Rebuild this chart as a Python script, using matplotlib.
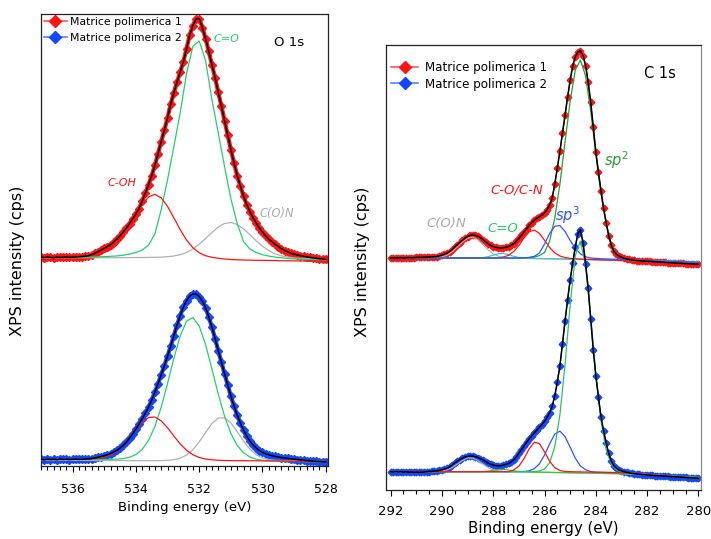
# XPS O 1s / C 1s spectra of two polymer matrices, with fitted components
import numpy as np
import matplotlib.pyplot as plt
from matplotlib.ticker import MultipleLocator
from matplotlib.lines import Line2D

W, H = 711, 539

# ---------------- O 1s ----------------
# measured spectra, 537.0 -> 528.0 eV, step 0.1 eV (height above own baseline)
o1s_e = np.round(537.0 - 0.1 * np.arange(91), 1)
o1s_m1 = [0.3, 0.0, 0.5, 0.2, -0.2, 0.4, 0.1, 0.3, 0.6, 0.2,
          0.4, 0.6, 0.8, 1.0, 1.3, 1.8, 2.8, 4.2, 5.8, 7.5,
          9.2, 11.0, 13.0, 15.6, 18.4, 21.6, 25.5, 29.6, 34.0, 38.8,
          43.6, 49.0, 56.5, 64.5, 73.0, 82.0, 92.5, 104.0, 116.0, 127.5,
          140.0, 153.5, 165.0, 175.5, 185.5, 196.0, 209.0, 222.5, 232.0, 238.5,
          239.0, 230.0, 219.0, 206.5, 193.0, 180.0, 165.5, 151.5, 137.0, 122.5,
          108.0, 94.5, 82.0, 71.5, 61.5, 53.0, 46.0, 40.0, 34.5, 29.5,
          25.5, 21.5, 18.5, 15.8, 13.3, 11.0, 8.8, 7.0, 5.6, 4.4,
          3.4, 2.5, 1.8, 1.2, 0.6, 0.1, -0.4, -0.8, -1.2, -1.5,
          -1.8]
o1s_m2 = [0.2, -0.3, 0.4, 0.0, 0.3, -0.2, 0.5, 0.1, 0.3, 0.0,
          0.2, 0.4, 0.1, 0.3, 0.5, 0.6, 1.0, 1.5, 2.2, 3.0,
          3.8, 4.8, 6.0, 7.5, 9.2, 11.5, 14.2, 17.5, 21.5, 25.8,
          30.5, 35.5, 41.0, 46.5, 52.5, 59.5, 67.5, 76.0, 85.0, 94.0,
          103.5, 113.5, 124.0, 134.5, 144.0, 152.5, 159.0, 163.5, 165.5, 165.5,
          163.0, 158.5, 152.0, 143.0, 132.5, 121.0, 109.0, 97.5, 86.0, 74.5,
          63.5, 53.5, 44.5, 36.5, 29.5, 23.5, 18.5, 14.5, 11.5, 9.0,
          7.2, 5.8, 4.7, 3.8, 3.1, 2.5, 2.0, 1.5, 1.1, 0.7,
          0.3, 0.0, -0.4, -0.7, -1.0, -1.3, -1.6, -1.8, -2.0, -2.2,
          -2.4]

# fitted components, 537.0 -> 528.0 eV, step 0.2 eV
o1s_ce = np.round(537.0 - 0.2 * np.arange(46), 1)
o1s_m1_coh = [0.4, 0.4, 0.4, 0.5, 0.5, 0.6, 0.8, 1.2, 2.0, 3.2,
              5.0, 7.8, 12.6, 20.2, 30.2, 41.8, 52.8, 60.6, 63.2, 59.6,
              51.0, 39.6, 27.8, 17.4, 9.8, 4.8, 1.8, 0.2, -0.8, -1.5,
              -2.0, -2.3, -2.5, -2.7, -2.8, -2.9, -3.0, -3.1, -3.2, -3.3,
              -3.4, -3.5, -3.6, -3.7, -3.8, -3.9]
o1s_m1_co = [0.0, 0.0, 0.1, 0.1, 0.1, 0.2, 0.2, 0.3, 0.4, 0.6,
             0.9, 1.2, 1.6, 2.3, 3.4, 5.0, 7.5, 12.5, 23.5, 48.0,
             78.0, 111.0, 145.0, 184.0, 211.0, 216.5, 197.0, 158.0, 125.0, 91.0,
             59.0, 34.0, 16.0, 8.5, 5.0, 2.8, 1.4, 0.4, -0.4, -1.0,
             -1.4, -1.7, -2.0, -2.2, -2.4, -2.5]
o1s_m1_con = [-0.2, -0.2, -0.2, -0.2, -0.2, -0.2, -0.2, -0.2, -0.2, -0.2,
              -0.2, -0.2, -0.2, -0.1, -0.1, 0.0, 0.0, 0.1, 0.2, 0.4,
              0.8, 1.5, 2.8, 5.0, 8.5, 13.3, 19.0, 25.0, 30.4, 34.0,
              35.0, 33.0, 28.6, 22.9, 16.7, 11.2, 6.9, 3.7, 1.6, 0.4,
              -0.4, -0.9, -1.2, -1.5, -1.7, -1.8]
o1s_m2_coh = [0.0, 0.0, 0.0, 0.0, 0.0, 0.1, 0.2, 0.3, 0.6, 1.1,
              2.2, 4.5, 8.4, 14.2, 21.8, 30.1, 37.5, 42.0, 42.5, 38.6,
              31.7, 23.5, 15.6, 9.2, 4.8, 2.0, 0.5, -0.3, -0.8, -1.0,
              -1.1, -1.2, -1.2, -1.3, -1.3, -1.4, -1.4, -1.5, -1.6, -1.7,
              -1.8, -1.9, -2.0, -2.1, -2.2, -2.3]
o1s_m2_co = [0.0, 0.0, 0.0, 0.0, 0.0, 0.0, 0.0, 0.0, 0.0, 0.0,
             0.1, 0.2, 0.4, 0.9, 2.2, 5.0, 10.2, 19.2, 33.2, 52.5,
             76.2, 101.3, 123.6, 138.3, 142.0, 133.4, 115.0, 90.8, 65.6, 43.4,
             26.1, 14.1, 6.7, 2.5, 0.3, -0.8, -1.3, -1.6, -1.8, -1.9,
             -2.0, -2.1, -2.2, -2.2, -2.3, -2.3]
o1s_m2_con = [-0.6, -0.6, -0.7, -0.7, -0.8, -0.8, -0.9, -0.9, -1.0, -1.0,
              -1.0, -1.1, -1.1, -1.1, -1.2, -1.2, -1.2, -1.2, -1.2, -1.1,
              -0.9, -0.2, 1.3, 4.4, 9.8, 17.6, 27.0, 35.9, 41.4, 41.7,
              36.6, 27.9, 18.5, 10.4, 4.8, 1.5, -0.1, -0.8, -1.2, -1.4,
              -1.5, -1.6, -1.7, -1.8, -1.9, -2.0]

# ---------------- C 1s ----------------
# measured spectra, 292.0 -> 280.0 eV, step 0.1 eV
c1s_e = np.round(292.0 - 0.1 * np.arange(121), 1)
c1s_m1 = [0.0, 0.3, -0.2, 0.2, 0.4, 0.0, 0.3, 0.5, 0.2, 0.4,
          0.6, 0.7, 0.6, 0.8, 0.9, 1.0, 1.2, 1.3, 1.5, 2.2,
          2.9, 3.8, 4.9, 6.5, 8.5, 11.0, 13.2, 15.5, 17.8, 19.8,
          21.5, 22.7, 23.0, 22.6, 21.7, 20.4, 18.5, 16.3, 14.2, 12.6,
          11.4, 10.6, 10.2, 10.1, 10.3, 10.8, 11.5, 12.8, 14.5, 16.8,
          19.6, 22.6, 26.0, 29.4, 32.6, 35.5, 37.8, 39.7, 41.4, 43.0,
          45.2, 48.5, 53.0, 60.0, 74.0, 90.0, 107.0, 125.0, 143.0, 161.0,
          178.0, 192.0, 201.3, 206.0, 207.3, 202.5, 192.5, 176.0, 156.0, 131.0,
          106.0, 86.0, 67.5, 50.0, 35.5, 22.5, 13.0, 7.0, 3.8, 2.0,
          0.8, -0.3, -0.9, -1.4, -1.8, -2.2, -2.6, -2.8, -3.0, -3.1,
          -3.3, -3.4, -3.5, -3.7, -3.8, -4.0, -4.2, -4.4, -4.5, -4.7,
          -4.8, -5.0, -5.1, -5.3, -5.4, -5.6, -5.7, -5.9, -6.0, -6.2,
          -6.3]
c1s_m2 = [0.0, -0.3, 0.2, -0.2, 0.1, -0.4, -0.1, -0.5, -0.3, -0.6,
          -0.4, -0.6, -0.5, -0.3, 0.0, 0.2, 0.4, 0.6, 0.8, 1.3,
          1.9, 2.6, 3.5, 4.8, 6.6, 8.8, 10.6, 12.2, 13.5, 14.6,
          15.3, 15.7, 15.6, 15.0, 14.2, 13.1, 11.8, 10.2, 8.6, 7.4,
          6.6, 6.1, 5.9, 6.1, 6.6, 7.3, 8.3, 9.8, 11.8, 14.8,
          18.4, 22.0, 25.8, 29.4, 32.8, 35.8, 38.8, 41.7, 44.5, 47.2,
          50.4, 54.5, 59.0, 65.5, 76.0, 90.0, 106.0, 128.0, 151.0, 172.0,
          192.0, 209.0, 225.0, 238.0, 242.0, 229.0, 208.0, 184.0, 153.0, 122.0,
          96.0, 75.0, 55.0, 41.0, 29.0, 18.5, 10.5, 6.0, 3.5, 1.8,
          0.8, 0.0, -0.6, -1.2, -1.7, -2.0, -2.3, -2.6, -2.9, -3.1,
          -3.3, -3.5, -3.7, -3.9, -4.0, -4.2, -4.3, -4.5, -4.7, -4.8,
          -5.0, -5.1, -5.3, -5.4, -5.6, -5.7, -5.9, -6.0, -6.2, -6.4,
          -6.6]

# fitted components (denser sampling where the peaks are)
c1s_ce = np.array([292.0, 291.2] + [round(290.6 - 0.2 * i, 1) for i in range(41)]
                  + [281.6, 280.8, 280.0])
c1s_m1_sp2 = [0.0] * 20 + [0.1, 0.2, 0.4, 0.9, 2.4, 5.5, 17.0, 40.0, 74.0, 116.0,
                           157.0, 188.0, 198.0, 182.0, 147.0, 104.0, 65.0, 35.0, 14.0, 4.0,
                           0.5, -1.0, -1.8, -3.8, -5.0, -6.3]
c1s_m1_sp3 = [0.0] * 20 + [0.0, 0.2, 0.6, 1.6, 5.0, 14.0, 24.5, 31.8, 32.4, 26.5,
                           17.5, 9.8, 4.2, 1.2, 0.0, -0.4, -0.7, -0.9, -1.1, -1.3,
                           -1.5, -1.7, -1.9, -2.9, -3.7, -4.4]
c1s_m1_con = [0.0] * 17 + [1.0, 2.7, 6.5,
                           12.5, 20.0, 26.1, 28.0, 24.6, 17.7, 10.5, 5.1, 2.0, 0.4,
                           -0.4, -0.8, -1.1, -1.3, -1.5, -1.7, -1.9, -2.0, -2.2, -2.3,
                           -2.5, -2.6, -2.8, -3.5, -4.1, -4.6]
c1s_m1_amide = [0.0, 0.0, 0.0, 0.1, 0.3, 1.0, 2.8, 6.2, 11.2, 16.0,
                19.8, 20.9, 18.4, 13.5, 8.2, 4.2, 1.8, 0.6, 0.1, -0.2,
                -0.3, -0.4, -0.5, -0.6, -0.7, -0.8, -0.9, -1.0, -1.1, -1.2,
                -1.3, -1.4, -1.5, -1.6, -1.7, -1.8, -1.9, -2.0, -2.1, -2.2,
                -2.3, -2.4, -2.5, -3.0, -3.5, -4.0]
c1s_m1_co = [0.0] * 12 + [0.1, 0.4, 1.3, 2.9, 4.3, 4.6, 3.4, 1.7,
                          0.5, 0.0, -0.2, -0.4, -0.5, -0.6, -0.7, -0.8, -0.9, -1.0,
                          -1.1, -1.2, -1.3, -1.4, -1.5, -1.6, -1.7, -1.8, -1.9, -2.0,
                          -2.1, -2.2, -2.3, -2.8, -3.3, -3.7]
c1s_m2_sp2 = [0.0] * 20 + [0.0, 0.0, 0.0, 0.1, 0.7, 2.7, 9.0, 25.0, 57.0, 107.0,
                           167.0, 216.0, 230.8, 205.7, 154.6, 97.0, 51.1, 22.3, 7.8, 1.8,
                           -0.3, -1.2, -1.5, -3.5, -5.0, -6.4]
c1s_m2_sp3 = [0.0] * 20 + [0.0, 0.2, 0.9, 3.0, 7.9, 16.6, 27.9, 37.6, 40.6, 35.1,
                           24.4, 13.5, 5.8, 1.9, 0.2, -0.5, -0.6, -0.7, -0.8, -0.9,
                           -1.0, -1.2, -1.5, -3.5, -5.0, -6.4]
c1s_m2_con = [0.0] * 19 + [1.7,
                           5.5, 13.1, 22.8, 29.5, 28.1, 19.9, 10.4, 4.0, 1.2, 0.2,
                           0.0, -0.1, -0.2, -0.3, -0.4, -0.5, -0.6, -0.7, -0.8, -0.9,
                           -1.0, -1.2, -1.5, -3.5, -5.0, -6.6]
c1s_m2_amide = [0.0, 0.0, 0.0, 0.0, 0.2, 0.7, 1.9, 4.2, 7.6, 11.2,
                13.7, 13.7, 11.2, 7.6, 4.2, 1.9, 0.7, 0.2, 0.0, -0.1,
                -0.2, -0.3, -0.4, -0.5, -0.6, -0.7, -0.8, -0.9, -1.0, -1.1,
                -1.2, -1.3, -1.4, -1.5, -1.6, -1.7, -1.8, -1.9, -2.0, -2.1,
                -2.2, -2.3, -2.5, -3.8, -5.0, -6.0]
c1s_m2_co = [0.0] * 12 + [0.0, 0.2, 0.6, 1.4, 2.1, 2.3, 1.7, 0.8,
                          0.3, 0.0, -0.2, -0.3, -0.4, -0.5, -0.6, -0.7, -0.8, -0.9,
                          -1.0, -1.1, -1.2, -1.3, -1.4, -1.5, -1.6, -1.7, -1.8, -1.9,
                          -2.0, -2.1, -2.3, -3.4, -4.5, -5.6]

labels = ['Matrice polimerica 1', 'Matrice polimerica 2']

RED, BLUE = '#ff1414', '#1448ff'
GREEN_O = '#22d070'
GRAY = '#b0b0b0'
SP2_1, SP2_2 = '#2a9e35', '#2ec25e'
SP3 = '#3355ff'
CYAN = '#3cc8c8'

fig = plt.figure(figsize=(W / 100, H / 100), dpi=100)
ax1 = fig.add_axes([41 / W, 1 - 466 / H, 287 / W, 452 / H])
ax2 = fig.add_axes([386 / W, 1 - 490 / H, 315 / W, 445 / H])


def spectrum(ax, e, h, off, col, band, ms):
    h = np.asarray(h) + off
    ax.plot(e, h, '-', color=col, lw=band, marker='D', ms=ms, mec=col, mfc=col, zorder=2)
    ax.plot(e, h, '-', color='k', lw=1.1, zorder=4)


def comp(ax, e, h, off, col):
    ax.plot(e, np.asarray(h) + off, color=col, lw=0.9, zorder=3)


# O 1s panel
up, lo = 208.5, 6.5
spectrum(ax1, o1s_e, o1s_m1, up, RED, 3.0, 3.8)
spectrum(ax1, o1s_e, o1s_m2, lo, BLUE, 3.0, 3.8)
for off, coh, co, con in [(up, o1s_m1_coh, o1s_m1_co, o1s_m1_con),
                          (lo, o1s_m2_coh, o1s_m2_co, o1s_m2_con)]:
    comp(ax1, o1s_ce, con, off, GRAY)
    comp(ax1, o1s_ce, co, off, GREEN_O)
    comp(ax1, o1s_ce, coh, off, RED)

# C 1s panel
up, lo = 232.0, 18.3
spectrum(ax2, c1s_e, c1s_m1, up, RED, 0.8, 3.4)
spectrum(ax2, c1s_e, c1s_m2, lo, BLUE, 0.8, 3.4)
comp(ax2, c1s_ce, c1s_m1_amide, up, GRAY)
comp(ax2, c1s_ce, c1s_m1_co, up, CYAN)
comp(ax2, c1s_ce, c1s_m1_con, up, RED)
comp(ax2, c1s_ce, c1s_m1_sp2, up, SP2_1)
comp(ax2, c1s_ce, c1s_m1_sp3, up, SP3)
comp(ax2, c1s_ce, c1s_m2_amide, lo, GRAY)
comp(ax2, c1s_ce, c1s_m2_co, lo, '#33cc33')
comp(ax2, c1s_ce, c1s_m2_sp3, lo, SP3)
comp(ax2, c1s_ce, c1s_m2_sp2, lo, SP2_2)
comp(ax2, c1s_ce, c1s_m2_con, lo, RED)

ax1.set_xlim(537.0, 527.93)
ax1.set_ylim(0, 452)
ax1.set_xticks([536, 534, 532, 530, 528])
ax1.xaxis.set_minor_locator(MultipleLocator(0.2))
ax2.set_xlim(292.18, 279.9)
ax2.set_ylim(0, 445)
ax2.set_xticks(np.arange(292, 279, -2))
ax2.xaxis.set_minor_locator(MultipleLocator(0.5))

for ax, fs, pad in [(ax1, 9, 7.5), (ax2, 9.5, 6.5)]:
    ax.set_yticks([])
    ax.tick_params(axis='x', which='major', direction='out', length=4.5, width=0.8,
                   labelsize=fs, pad=pad)
    ax.tick_params(axis='x', which='minor', direction='out', length=3, width=0.8)
    for s in ax.spines.values():
        s.set_color('#222222')
        s.set_linewidth(0.9)
ax2.spines['right'].set_color('#888888')

ax1.set_xlabel('Binding energy (eV)', fontsize=9.5)
ax1.xaxis.set_label_coords(0.5, (466 - 500.5) / 452)
ax2.set_xlabel('Binding energy (eV)', fontsize=10.8)
ax2.xaxis.set_label_coords(0.5, (490 - 521.5) / 445)


def put(x, y, s, **kw):
    fig.text(x / W, 1 - y / H, s, ha='center', va='center', **kw)


put(18, 261, 'XPS intensity (cps)', rotation=90, fontsize=11.5)
put(363, 262, 'XPS intensity (cps)', rotation=90, fontsize=11.5)

# peak labels
put(122, 183, 'C-OH', color=RED, style='italic', fontsize=8)
put(226, 39, 'C=O', color=GREEN_O, style='italic', fontsize=8)
put(277, 213, 'C(O)N', color='#aaaaaa', style='italic', fontsize=8.3)
put(289, 43, 'O 1s', fontsize=9.6)

put(517, 190, 'C-O/C-N', color=RED, style='italic', fontsize=9.5)
put(446, 223, 'C(O)N', color='#aaaaaa', style='italic', fontsize=9.5)
put(503, 229, 'C=O', color='#22cc66', style='italic', fontsize=9.5)
put(568, 215, r'$sp^{3}$', color=SP3, fontsize=10.5)
put(617, 160, r'$sp^{2}$', color=SP2_1, fontsize=10.5)
put(660, 73, 'C 1s', fontsize=10.5)

# legends
handles = [Line2D([], [], color='#ff5a5a', lw=1.2, marker='D', ms=6.5, mfc=RED, mec=RED),
           Line2D([], [], color='#5a82ff', lw=1.2, marker='D', ms=6.5, mfc=BLUE, mec=BLUE)]
fig.legend(handles, labels, loc='upper left', bbox_to_anchor=(44 / W, 1 - 17 / H),
           frameon=False, fontsize=7.8, handlelength=2.1, handletextpad=0.3,
           labelspacing=0.55, borderpad=0, borderaxespad=0)
fig.legend(handles, labels, loc='upper left', bbox_to_anchor=(391 / W, 1 - 61 / H),
           frameon=False, fontsize=8.6, handlelength=2.3, handletextpad=0.55,
           labelspacing=0.3, borderpad=0, borderaxespad=0)

plt.savefig('out.png', dpi=100)
